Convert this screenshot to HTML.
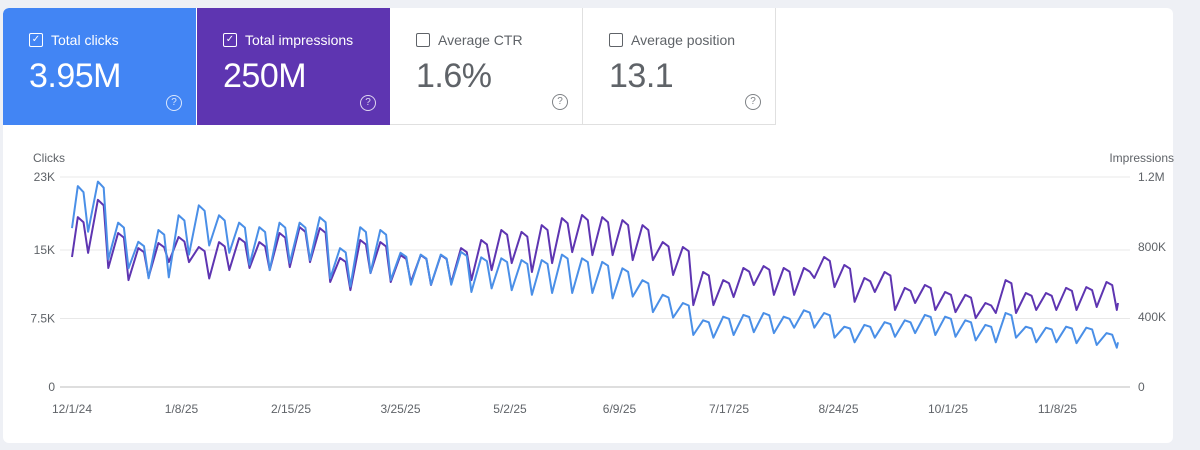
<!DOCTYPE html>
<html><head><meta charset="utf-8"><style>
body{margin:0;width:1200px;height:450px;background:#eef0f5;font-family:"Liberation Sans",sans-serif;overflow:hidden;position:relative}
.panel{position:absolute;left:3px;top:8px;width:1170px;height:435px;background:#fff;border-radius:6px;overflow:hidden}
.card{position:absolute;top:0;height:117px;width:193px;box-sizing:border-box;padding:24px 0 0 26px}
.lbl{font-size:14px;display:flex;align-items:center}
.cb{width:12px;height:12px;border:1.6px solid currentColor;border-radius:2px;margin-right:8px;position:relative;font-size:10px;line-height:12px;text-align:center}
.val{font-size:34px;margin-top:9px;letter-spacing:-0.5px}
.help{position:absolute;right:14px;bottom:14px;width:14px;height:14px;border:1.3px solid currentColor;border-radius:50%;font-size:10px;line-height:14px;text-align:center;opacity:.8}
</style></head><body>
<div class="panel">
<div class="card" style="left:0;background:#4285f4;color:#fff;border-top-left-radius:6px"><div class="lbl"><span class="cb">✓</span>Total clicks</div><div class="val">3.95M</div><span class="help">?</span></div>
<div class="card" style="left:194px;background:#5e35b1;color:#fff"><div class="lbl"><span class="cb">✓</span>Total impressions</div><div class="val">250M</div><span class="help">?</span></div>
<div class="card" style="left:387px;color:#5f6368;border-right:1px solid #e0e0e0;border-bottom:1px solid #e0e0e0"><div class="lbl"><span class="cb"></span>Average CTR</div><div class="val">1.6%</div><span class="help">?</span></div>
<div class="card" style="left:580px;color:#5f6368;border-right:1px solid #e0e0e0;border-bottom:1px solid #e0e0e0"><div class="lbl"><span class="cb"></span>Average position</div><div class="val">13.1</div><span class="help">?</span></div>
</div>
<svg id="chart" width="1200" height="450" style="position:absolute;left:0;top:0"></svg>
<script>
const clicksTicks=[0,7500,15000,23000];
const clicksTickLabels=["0","7.5K","15K","23K"];
const imprTicks=[0,400000,800000,1200000];
const imprTickLabels=["0","400K","800K","1.2M"];
const xLabels=["12/1/24","1/8/25","2/15/25","3/25/25","5/2/25","6/9/25","7/17/25","8/24/25","10/1/25","11/8/25"];
const clicksStart=17.4;
const clicksPeaks=[22,22.5,18,15.9,17.2,18.8,19.9,18.8,18,17.5,18,18,18.6,15.2,17.5,17.2,14.7,14.5,14.5,14.8,14.2,14.1,13.9,13.9,14.5,14.1,13.7,13,11.7,10.1,9.2,7.3,7.7,7.9,8.1,7.7,8.4,8.1,6.6,6.8,7.1,7.3,7.9,7.7,7.3,6.8,8.1,6.6,6.5,6.6,6.5,5.9];
const clicksTroughs=[17,14,13,11.9,12,14.5,15.5,14.7,13.4,12.8,13.6,13.9,11.9,11,12.5,11.7,11.2,11.2,11.2,10.4,10.8,10.6,10.1,10.3,10.3,10.3,9.7,9.9,8.2,7.6,5.7,5.4,5.7,6,5.9,6.5,6.5,5.4,4.9,5.4,5.5,5.9,5.7,5.5,5.1,4.9,5.4,4.9,4.9,4.8,4.6,4.3];
const clicksEnd=4.9;
const imprStart=743;
const imprPeaks=[971,1070,880,794,823,857,800,828,851,828,880,914,908,737,840,828,754,754,754,794,840,897,886,925,965,983,971,954,925,828,800,657,611,680,691,680,680,743,697,623,657,566,583,543,526,480,611,537,537,566,571,600];
const imprTroughs=[766,680,611,628,714,714,620,668,680,668,685,714,600,554,651,600,600,583,594,611,668,708,657,708,771,754,754,725,725,640,468,468,514,583,526,526,623,571,486,543,440,480,440,428,394,423,423,440,440,440,457,440];
const imprEnd=480;

const svg=document.getElementById('chart');const NS='http://www.w3.org/2000/svg';
const X0=72,X1=1118,DAYS=363,Y0=387,Y1=177;
const xs=d=>X0+(X1-X0)*d/DAYS;
const yc=v=>Y0-(Y0-Y1)*v/23000;
const yi=v=>Y0-(Y0-Y1)*v/1200000;
function el(t,a){const e=document.createElementNS(NS,t);for(const k in a)e.setAttribute(k,a[k]);svg.appendChild(e);return e;}
clicksTicks.forEach((v,i)=>{
 const l=el('line',{x1:60,x2:1130,y1:yc(v),y2:yc(v),stroke:i==0?'#bdbdbd':'#e8e8e8','stroke-width':1});
 
 
 const t=el('text',{x:55,y:yc(v)+4,'text-anchor':'end','font-size':12,fill:'#5f6368','font-family':'Liberation Sans'});t.textContent=clicksTickLabels[i];
 
 
});
imprTicks.forEach((v,i)=>{
 const t=el('text',{x:1138,y:yi(v)+4,'font-size':12,fill:'#5f6368','font-family':'Liberation Sans'});t.textContent=imprTickLabels[i];
 
 
});
let t=el('text',{x:33,y:162,'font-size':12,fill:'#5f6368','font-family':'Liberation Sans'});t.textContent='Clicks';


t=el('text',{x:1174,y:162,'text-anchor':'end','font-size':12,fill:'#5f6368','font-family':'Liberation Sans'});t.textContent='Impressions';


xLabels.forEach((s,i)=>{
 const e=el('text',{x:xs(i*38),y:413,'text-anchor':'middle','font-size':12,fill:'#5f6368','font-family':'Liberation Sans'});e.textContent=s;
 
 
});
function series(start,peaks,troughs,end,fy){
 const pts=[[xs(0),fy(start)]];
 peaks.forEach((p,w)=>{pts.push([xs(7*w+2),fy(p)]);pts.push([xs(7*w+4),fy(p*0.97)]);pts.push([xs(7*w+5.6),fy(troughs[w])]);});
 pts.push([xs(DAYS),fy(end)]);
 return pts.map(p=>p[0].toFixed(1)+','+p[1].toFixed(1)).join(' ');
}
const pi=el('polyline',{points:series(imprStart,imprPeaks,imprTroughs,imprEnd,v=>yi(v*1000)),fill:'none',stroke:'#5e35b1','stroke-width':2,'stroke-linejoin':'round'});


const pc=el('polyline',{points:series(clicksStart,clicksPeaks,clicksTroughs,clicksEnd,v=>yc(v*1000)),fill:'none',stroke:'#4a8fe7','stroke-width':2,'stroke-linejoin':'round'});


</script>
</body></html>
